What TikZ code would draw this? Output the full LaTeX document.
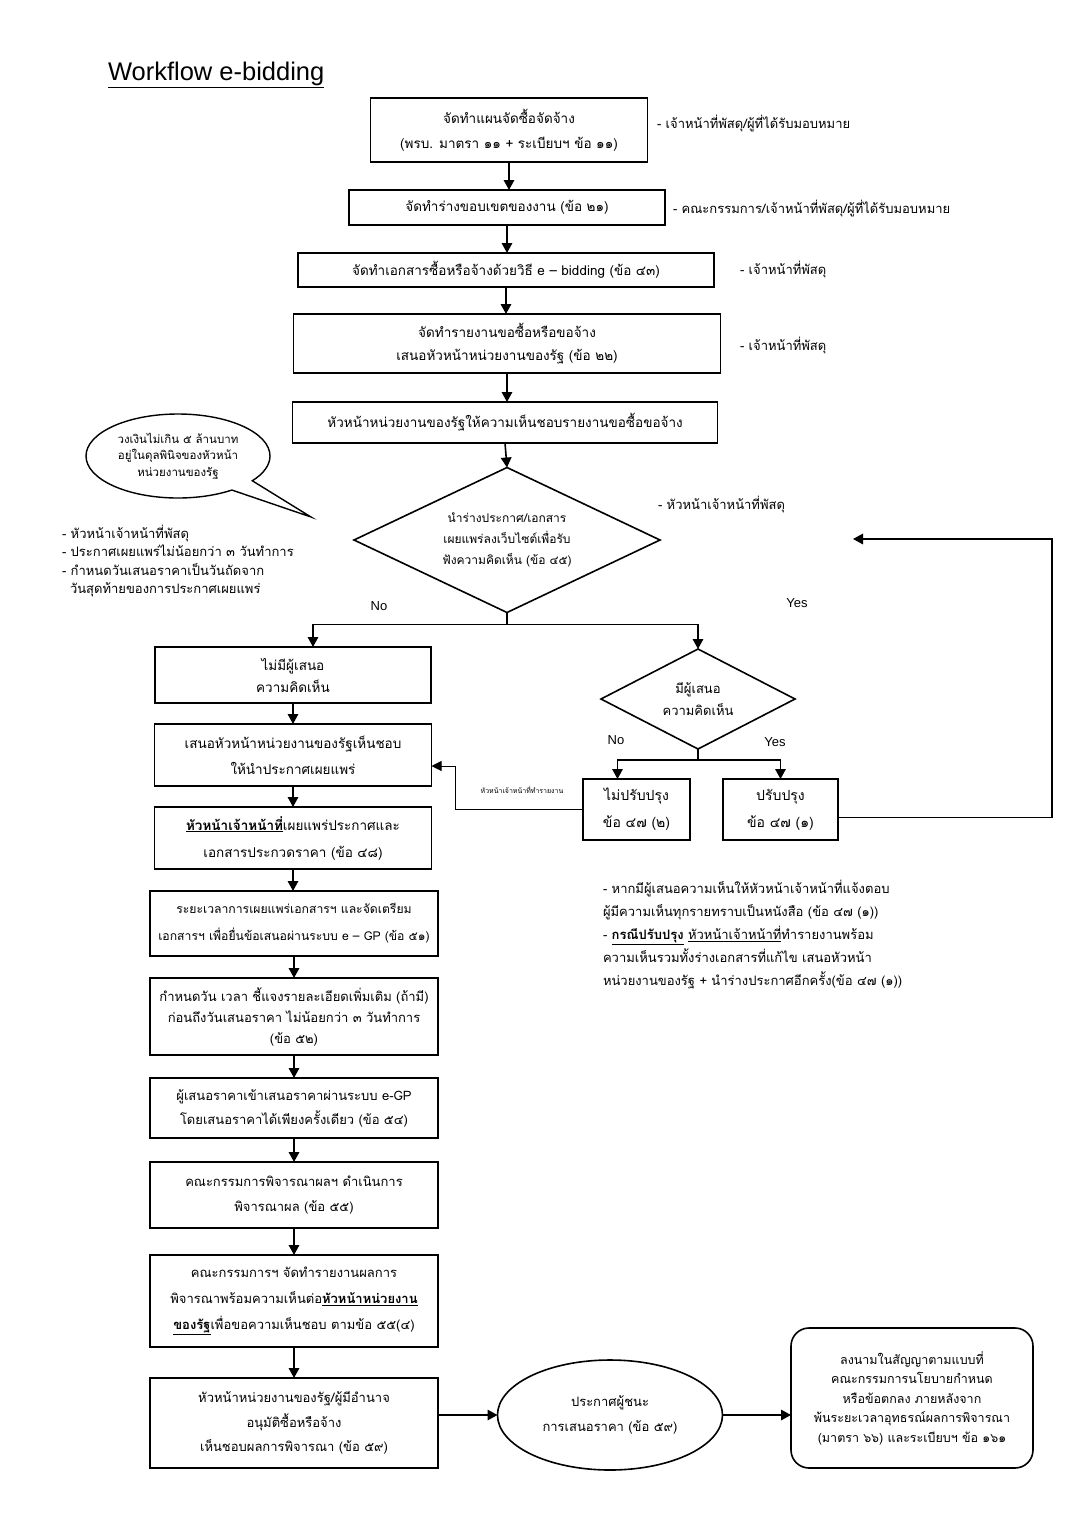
\documentclass[tikz,border=0pt]{standalone}
\usepackage{fontspec}
\setmainfont{Liberation Sans}
\newfontfamily\thai[Script=Thai]{Loma}
\newfontfamily\lat{Liberation Sans}
\usetikzlibrary{shapes.geometric,shapes.callouts,arrows.meta}
\begin{document}
\begin{tikzpicture}[x=1pt,y=-1pt,
  every node/.style={inner sep=0pt, outer sep=0pt},
  box/.style={draw, line width=1.6pt, align=center, font=\thai\fontsize{13.5}{25}\selectfont},
  dia/.style={draw, diamond, line width=1.6pt, align=center, font=\thai\fontsize{12}{21}\selectfont},
  arr/.style={line width=1.6pt, -{Triangle[width=10.5pt,length=10pt]}},
  ln/.style={line width=1.6pt},
  thin/.style={line width=0.9pt},
  note/.style={anchor=west, align=left, font=\thai\fontsize{13}{19}\selectfont},
  lab/.style={font=\lat\fontsize{13}{15}\selectfont}
]
\useasboundingbox[fill=white] (0,0) rectangle (1078,1516);

% title
\node[anchor=west, font=\lat\fontsize{25.5}{28}\selectfont] (title) at (108,75) {\underline{Workflow e-bidding}};

% top column
\node[box, minimum width=277, minimum height=64] (b1) at (509,130) {จัดทำแผนจัดซื้อจัดจ้าง\\(พรบ. มาตรา ๑๑ + ระเบียบฯ ข้อ ๑๑)};
\node[box, minimum width=316, minimum height=35] (b2) at (507,207.5) {จัดทำร่างขอบเขตของงาน (ข้อ ๒๑)};
\node[box, minimum width=416, minimum height=34] (b3) at (506,270) {จัดทำเอกสารซื้อหรือจ้างด้วยวิธี e – bidding (ข้อ ๔๓)};
\node[box, minimum width=427, minimum height=59, font=\thai\fontsize{13.5}{23}\selectfont] (b4) at (507,343.5) {จัดทำรายงานขอซื้อหรือขอจ้าง\\เสนอหัวหน้าหน่วยงานของรัฐ (ข้อ ๒๒)};
\node[box, minimum width=425, minimum height=41] (b5) at (505,422.5) {หัวหน้าหน่วยงานของรัฐให้ความเห็นชอบรายงานขอซื้อขอจ้าง};

\draw[arr] (b1.south) -- (b1.south |- b2.north);
\draw[arr] (b2.south) -- (b2.south |- b3.north);
\draw[arr] (b3.south) -- (b3.south |- b4.north);
\draw[arr] (b4.south) -- (b4.south |- b5.north);

% annotations
\node[note] (n1) at (657,124) {- เจ้าหน้าที่พัสดุ/ผู้ที่ได้รับมอบหมาย};
\node[note] (n2) at (673,209) {- คณะกรรมการ/เจ้าหน้าที่พัสดุ/ผู้ที่ได้รับมอบหมาย};
\node[note] (n3) at (740,270) {- เจ้าหน้าที่พัสดุ};
\node[note] (n4) at (740,346) {- เจ้าหน้าที่พัสดุ};
\node[note] (n5) at (658,505) {- หัวหน้าเจ้าหน้าที่พัสดุ};

% diamond 1
\node[dia, aspect=2.11, minimum width=306, minimum height=145] (d1) at (507,540) {นำร่างประกาศ/เอกสาร\\เผยแพร่ลงเว็บไซต์เพื่อรับ\\ฟังความคิดเห็น (ข้อ ๔๕)};
\draw[arr] (b5.south) -- (d1.north);

% callout
\node[draw, ellipse callout, line width=1.4pt, minimum width=184, minimum height=84,
      callout absolute pointer={(311,517)}, callout pointer arc=18, align=center,
      font=\thai\fontsize{11.5}{16.5}\selectfont] (c1) at (178,456)
      {วงเงินไม่เกิน ๕ ล้านบาท\\อยู่ในดุลพินิจของหัวหน้า\\หน่วยงานของรัฐ};

\node[note, font=\thai\fontsize{13}{18.5}\selectfont] (n6) at (62,561) {- หัวหน้าเจ้าหน้าที่พัสดุ\\- ประกาศเผยแพร่ไม่น้อยกว่า ๓ วันทำการ\\- กำหนดวันเสนอราคาเป็นวันถัดจาก\\\hspace*{8pt}วันสุดท้ายของการประกาศเผยแพร่};

\node[lab] (no1) at (379,606) {No};
\node[lab] (yes1) at (797,603) {Yes};

% left column
\node[box, minimum width=276, minimum height=56, font=\thai\fontsize{13.5}{22}\selectfont] (l1) at (293,675) {ไม่มีผู้เสนอ\\ความคิดเห็น};
\node[box, minimum width=277, minimum height=62, font=\thai\fontsize{13.5}{26}\selectfont] (l2) at (293,755) {เสนอหัวหน้าหน่วยงานของรัฐเห็นชอบ\\ให้นำประกาศเผยแพร่};
\node[box, minimum width=277, minimum height=62, font=\thai\fontsize{13.5}{27}\selectfont] (l3) at (293,838) {\underline{\textbf{หัวหน้าเจ้าหน้าที่}}เผยแพร่ประกาศและ\\เอกสารประกวดราคา (ข้อ ๔๘)};
\node[box, minimum width=288, minimum height=65, font=\thai\fontsize{12.2}{27}\selectfont] (l4) at (294,923.5) {ระยะเวลาการเผยแพร่เอกสารฯ และจัดเตรียม\\เอกสารฯ เพื่อยื่นข้อเสนอผ่านระบบ e – GP (ข้อ ๕๑)};
\node[box, minimum width=288, minimum height=77, font=\thai\fontsize{13}{21}\selectfont] (l5) at (294,1016.5) {กำหนดวัน เวลา ชี้แจงรายละเอียดเพิ่มเติม (ถ้ามี)\\ก่อนถึงวันเสนอราคา ไม่น้อยกว่า ๓ วันทำการ\\(ข้อ ๕๒)};
\node[box, minimum width=288, minimum height=60, font=\thai\fontsize{13}{24}\selectfont] (l6) at (294,1108) {ผู้เสนอราคาเข้าเสนอราคาผ่านระบบ e-GP\\โดยเสนอราคาได้เพียงครั้งเดียว (ข้อ ๕๔)};
\node[box, minimum width=288, minimum height=66, font=\thai\fontsize{13}{25}\selectfont] (l7) at (294,1195) {คณะกรรมการพิจารณาผลฯ ดำเนินการ\\พิจารณาผล (ข้อ ๕๕)};
\node[box, minimum width=288, minimum height=92, font=\thai\fontsize{13}{26}\selectfont] (l8) at (294,1301) {คณะกรรมการฯ จัดทำรายงานผลการ\\พิจารณาพร้อมความเห็นต่อ\underline{\textbf{หัวหน้าหน่วยงาน}}\\\underline{\textbf{ของรัฐ}}เพื่อขอความเห็นชอบ ตามข้อ ๕๕(๔)};
\node[box, minimum width=288, minimum height=90, font=\thai\fontsize{13}{24.5}\selectfont] (l9) at (294,1423) {หัวหน้าหน่วยงานของรัฐ/ผู้มีอำนาจ\\อนุมัติซื้อหรือจ้าง\\เห็นชอบผลการพิจารณา (ข้อ ๕๙)};

\draw[arr] (l1.south) -- (l1.south |- l2.north);
\draw[arr] (l2.south) -- (l2.south |- l3.north);
\draw[arr] (l3.south) -- (l3.south |- l4.north);
\draw[arr] (l4.south) -- (l4.south |- l5.north);
\draw[arr] (l5.south) -- (l5.south |- l6.north);
\draw[arr] (l6.south) -- (l6.south |- l7.north);
\draw[arr] (l7.south) -- (l7.south |- l8.north);
\draw[arr] (l8.south) -- (l8.south |- l9.north);

% bottom row
\node[draw, ellipse, line width=1.6pt, minimum width=225, minimum height=110, align=center,
      font=\thai\fontsize{13}{25}\selectfont] (e1) at (610,1415) {ประกาศผู้ชนะ\\การเสนอราคา (ข้อ ๕๙)};
\node[draw, rounded corners=18pt, line width=1.6pt, minimum width=242, minimum height=140, align=center,
      font=\thai\fontsize{12.5}{19.5}\selectfont] (r3) at (912,1398) {ลงนามในสัญญาตามแบบที่\\คณะกรรมการนโยบายกำหนด\\หรือข้อตกลง ภายหลังจาก\\พ้นระยะเวลาอุทธรณ์ผลการพิจารณา\\(มาตรา ๖๖) และระเบียบฯ ข้อ ๑๖๑};
\draw[arr] (l9.east |- e1.west) -- (e1.west);
\draw[arr] (e1.east) -- (e1.east -| r3.west);

% right branch
\node[dia, aspect=1.94, minimum width=194, minimum height=100, font=\thai\fontsize{13}{22}\selectfont] (d2) at (698,699) {มีผู้เสนอ\\ความคิดเห็น};
\draw[ln] (d1.south) -- ++(0,12) coordinate (j1);
\draw[arr] (j1) -| ([xshift=20pt]l1.north);
\draw[arr] (j1) -| (d2.north);

\node[lab] (no2) at (616,740) {No};
\node[lab] (yes2) at (775,742) {Yes};

\node[box, minimum width=107, minimum height=61, font=\thai\fontsize{14}{27}\selectfont] (r1) at (636.5,809.5) {ไม่ปรับปรุง\\ข้อ ๔๗ (๒)};
\node[box, minimum width=115, minimum height=61, font=\thai\fontsize{14}{27}\selectfont] (r2) at (780.5,809.5) {ปรับปรุง\\ข้อ ๔๗ (๑)};
\draw[ln] (d2.south) -- ++(0,11) coordinate (j2);
\draw[arr] (j2) -| ([xshift=-19pt]r1.north);
\draw[arr] (j2) -| (r2.north);

% feedback to l2
\draw[thin, -{Triangle[width=10pt,length=10pt]}] (r1.west) -- ++(-128,0) |- ([yshift=-11pt]l2.east);
\node[font=\thai\fontsize{7}{8}\selectfont] (fb) at (522,790) {หัวหน้าเจ้าหน้าที่ทำรายงาน};

% loop back
\coordinate (lp) at (853,539);
\draw[arr] ([yshift=-8pt]r2.east) -- ++(214,0) |- (lp);

% right note
\node[note, font=\thai\fontsize{13}{23}\selectfont] (n7) at (603,934.5) {- หากมีผู้เสนอความเห็นให้หัวหน้าเจ้าหน้าที่แจ้งตอบ\\ผู้มีความเห็นทุกรายทราบเป็นหนังสือ (ข้อ ๔๗ (๑))\\- \underline{\textbf{กรณีปรับปรุง}} \underline{หัวหน้าเจ้าหน้าที่}ทำรายงานพร้อม\\ความเห็นรวมทั้งร่างเอกสารที่แก้ไข เสนอหัวหน้า\\หน่วยงานของรัฐ + นำร่างประกาศอีกครั้ง(ข้อ ๔๗ (๑))};
\end{tikzpicture}
\end{document}
